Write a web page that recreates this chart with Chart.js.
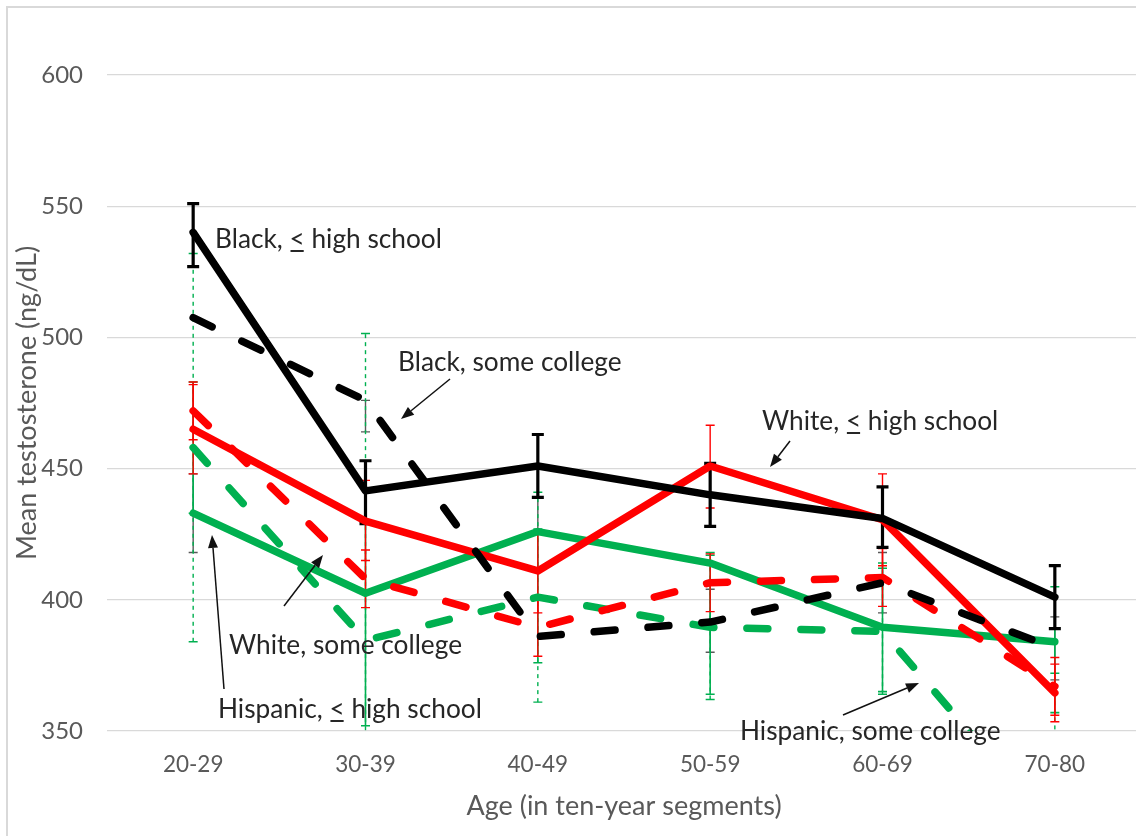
<!DOCTYPE html>
<html>
<head>
<meta charset="utf-8">
<script src="https://cdn.jsdelivr.net/npm/chart.js@4.4.1/dist/chart.umd.min.js"></script>
<style>
  html, body { margin: 0; padding: 0; background: #fff; overflow: hidden; width: 1136px; height: 836px; }
  #frame { position: absolute; left: 6px; top: 6px; width: 1180px; height: 850px; border: 2px solid #d9d9d9; box-sizing: border-box; }
  #wrap { position: absolute; left: 0; top: 0; width: 1150px; height: 836px; }
</style>
</head>
<body>
<div id="frame"></div>
<div id="wrap"><canvas id="c" width="1150" height="836"></canvas></div>
<script>
// Age groups on the horizontal axis
const ages = ['20-29', '30-39', '40-49', '50-59', '60-69', '70-80'];
const yTicks = [350, 400, 450, 500, 550, 600];

// Mean testosterone (ng/dL) by group
const blackHighSchool    = [540, 441.5, 451, 440, 431, 401];
const blackCollege       = [507.5, 476, 386, 391.5, 406.5, 381.5];
const whiteHighSchool    = [465, 430, 411, 451, 430.5, 364.5];
const whiteCollege       = [472, 408, 389.5, 406.5, 408.5, 367];
const hispanicHighSchool = [433, 402.5, 426, 414, 389.5, 384];
const hispanicCollege    = [458, 384.5, 401, 389.5, 388, 312];

// Error bar ends (lower / upper) per group
const blackHighSchoolLow    = [527, 429, 439, 428, 420, 389];
const blackHighSchoolHigh   = [551, 453, 463, 452, 443, 413];
const blackCollegeLow       = [418, 464, 426, 380, 395, 369.5];
const blackCollegeHigh      = [448, 476, 439, 404, 418, 393.5];
const whiteHighSchoolLow    = [448, 415, 395, 435, 413, 353.5];
const whiteHighSchoolHigh   = [482, 445.5, 426, 466.5, 448, 375.5];
const whiteCollegeLow       = [461, 397, 378.5, 395.5, 397.5, 356];
const whiteCollegeHigh      = [483, 419, 400.5, 417.5, 419.5, 378];
const hispanicHighSchoolLow  = [433, 352, 376, 364, 365, 357];
const hispanicHighSchoolHigh = [483, 453, 427, 418, 414, 405];
const hispanicCollegeLow     = [384, 268, 361, 362, 364, 250];
const hispanicCollegeHigh    = [532, 501.5, 441, 417, 412, 372];

const BLACK = '#000000', RED = '#ff0000', GREEN = '#00b050';
const FONT = 'Lato, "Open Sans", sans-serif';

function lineSeries(label, data, color, dashed) {
  return {
    label, data,
    borderColor: color, backgroundColor: color,
    borderWidth: 7.5,
    borderDash: dashed ? [21, 33] : [],
    borderCapStyle: 'round', borderJoinStyle: 'round',
    pointRadius: 0, pointHoverRadius: 0, tension: 0, fill: false
  };
}

// dataset 0 is painted last, so black sits on top
const datasets = [
  lineSeries('Black, < high school', blackHighSchool, BLACK, false),
  lineSeries('Black, some college', blackCollege, BLACK, true),
  lineSeries('White, < high school', whiteHighSchool, RED, false),
  lineSeries('White, some college', whiteCollege, RED, true),
  lineSeries('Hispanic, < high school', hispanicHighSchool, GREEN, false),
  lineSeries('Hispanic, some college', hispanicCollege, GREEN, true)
];

// error bars, painted in this order underneath the lines
const errorBars = [
  { lo: blackCollegeLow, hi: blackCollegeHigh, color: '#595959', width: 1.4, cap: 9, dash: [] },
  { lo: hispanicCollegeLow, hi: hispanicCollegeHigh, color: GREEN, width: 1.4, cap: 9, dash: [4, 4] },
  { lo: hispanicHighSchoolLow, hi: hispanicHighSchoolHigh, color: GREEN, width: 1.6, cap: 9, dash: [] },
  { lo: whiteCollegeLow, hi: whiteCollegeHigh, color: RED, width: 1.4, cap: 9, dash: [] },
  { lo: whiteHighSchoolLow, hi: whiteHighSchoolHigh, color: RED, width: 1.4, cap: 9, dash: [] },
  { lo: blackHighSchoolLow, hi: blackHighSchoolHigh, color: BLACK, width: 3.2, cap: 12, dash: [] }
];

const errorBarPlugin = {
  id: 'errorBars',
  beforeDatasetsDraw(chart) {
    const { ctx, chartArea: a, scales: { x, y } } = chart;
    ctx.save();
    ctx.beginPath();
    ctx.rect(a.left, a.top, a.right - a.left, a.bottom - a.top);
    ctx.clip();
    errorBars.forEach(bar => {
      ctx.strokeStyle = bar.color;
      ctx.lineWidth = bar.width;
      bar.lo.forEach((low, i) => {
        const px = x.getPixelForValue(i);
        const yl = y.getPixelForValue(low);
        const yh = y.getPixelForValue(bar.hi[i]);
        ctx.setLineDash(bar.dash);
        ctx.beginPath();
        ctx.moveTo(px, yl); ctx.lineTo(px, yh);
        ctx.stroke();
        ctx.setLineDash([]);
        ctx.beginPath();
        ctx.moveTo(px - bar.cap / 2, yl); ctx.lineTo(px + bar.cap / 2, yl);
        ctx.moveTo(px - bar.cap / 2, yh); ctx.lineTo(px + bar.cap / 2, yh);
        ctx.stroke();
      });
    });
    ctx.restore();
  }
};

// callout labels with pointer arrows
const callouts = [
  { pre: 'Black, ', sym: '<', post: ' high school', x: 215, y: 248 },
  { pre: 'Black, some college', sym: '', post: '', x: 398, y: 371, arrow: [450, 379, 401, 419] },
  { pre: 'White, ', sym: '<', post: ' high school', x: 762, y: 430, arrow: [790, 441, 770, 467] },
  { pre: 'White, some college', sym: '', post: '', x: 229, y: 654, arrow: [284, 606, 323, 555] },
  { pre: 'Hispanic, ', sym: '<', post: ' high school', x: 218, y: 718, arrow: [224, 689, 212, 535] },
  { pre: 'Hispanic, some college', sym: '', post: '', x: 740, y: 740, arrow: [843, 715, 919, 683] }
];

function drawArrow(ctx, x1, y1, x2, y2) {
  const ang = Math.atan2(y2 - y1, x2 - x1);
  const len = 13, half = 5;
  const bx = x2 - Math.cos(ang) * len, by = y2 - Math.sin(ang) * len;
  ctx.beginPath();
  ctx.moveTo(x1, y1); ctx.lineTo(bx, by);
  ctx.stroke();
  ctx.beginPath();
  ctx.moveTo(x2, y2);
  ctx.lineTo(bx + Math.sin(ang) * half, by - Math.cos(ang) * half);
  ctx.lineTo(bx - Math.sin(ang) * half, by + Math.cos(ang) * half);
  ctx.closePath();
  ctx.fill();
}

const calloutPlugin = {
  id: 'callouts',
  afterDraw(chart) {
    const ctx = chart.ctx;
    ctx.save();
    // size the text so the first label spans its intended width
    ctx.font = '24px ' + FONT;
    const w = ctx.measureText('Black, < high school').width;
    const size = 24 * 227 / w;
    ctx.font = size.toFixed(2) + 'px ' + FONT;
    ctx.fillStyle = '#262626';
    ctx.strokeStyle = '#262626';
    ctx.textBaseline = 'alphabetic';
    ctx.textAlign = 'left';
    callouts.forEach(c => {
      const text = c.pre + c.sym + c.post;
      ctx.fillText(text, c.x, c.y);
      if (c.sym) {
        const sx = c.x + ctx.measureText(c.pre).width;
        const sw = ctx.measureText(c.sym).width;
        ctx.lineWidth = 2;
        ctx.beginPath();
        ctx.moveTo(sx + 1, c.y + 3); ctx.lineTo(sx + sw - 1, c.y + 3);
        ctx.stroke();
      }
      if (c.arrow) {
        ctx.lineWidth = 1.5;
        ctx.strokeStyle = '#111';
        ctx.fillStyle = '#111';
        drawArrow(ctx, ...c.arrow);
        ctx.fillStyle = '#262626';
        ctx.strokeStyle = '#262626';
      }
    });
    ctx.restore();
  }
};

new Chart(document.getElementById('c'), {
  type: 'line',
  data: { labels: ages, datasets },
  plugins: [errorBarPlugin, calloutPlugin],
  options: {
    responsive: false,
    animation: false,
    devicePixelRatio: 1,
    layout: { padding: { left: 0, right: 9, top: 75, bottom: 0 } },
    plugins: { legend: { display: false }, tooltip: { enabled: false } },
    scales: {
      x: {
        offset: true,
        grid: { display: false, drawTicks: false },
        border: { display: false },
        ticks: { color: '#595959', font: { family: FONT, size: 22.5 }, padding: 20, maxRotation: 0 },
        title: { display: true, text: 'Age (in ten-year segments)', color: '#595959',
                 font: { family: FONT, size: 27 }, padding: { top: 0, bottom: 14 } },
        afterFit(s) { s.height = 105; }
      },
      y: {
        min: 350, max: 600,
        afterBuildTicks(s) { s.ticks = yTicks.map(v => ({ value: v })); },
        grid: { color: '#d9d9d9', lineWidth: 1.3, drawTicks: false },
        border: { display: false },
        ticks: { color: '#595959', font: { family: FONT, size: 24 }, padding: 24 },
        title: { display: true, text: 'Mean testosterone (ng/dL)', color: '#595959',
                 font: { family: FONT, size: 27 }, padding: { top: 11, bottom: 0 } },
        afterFit(s) { s.width = 107; }
      }
    }
  }
});
</script>
</body>
</html>
